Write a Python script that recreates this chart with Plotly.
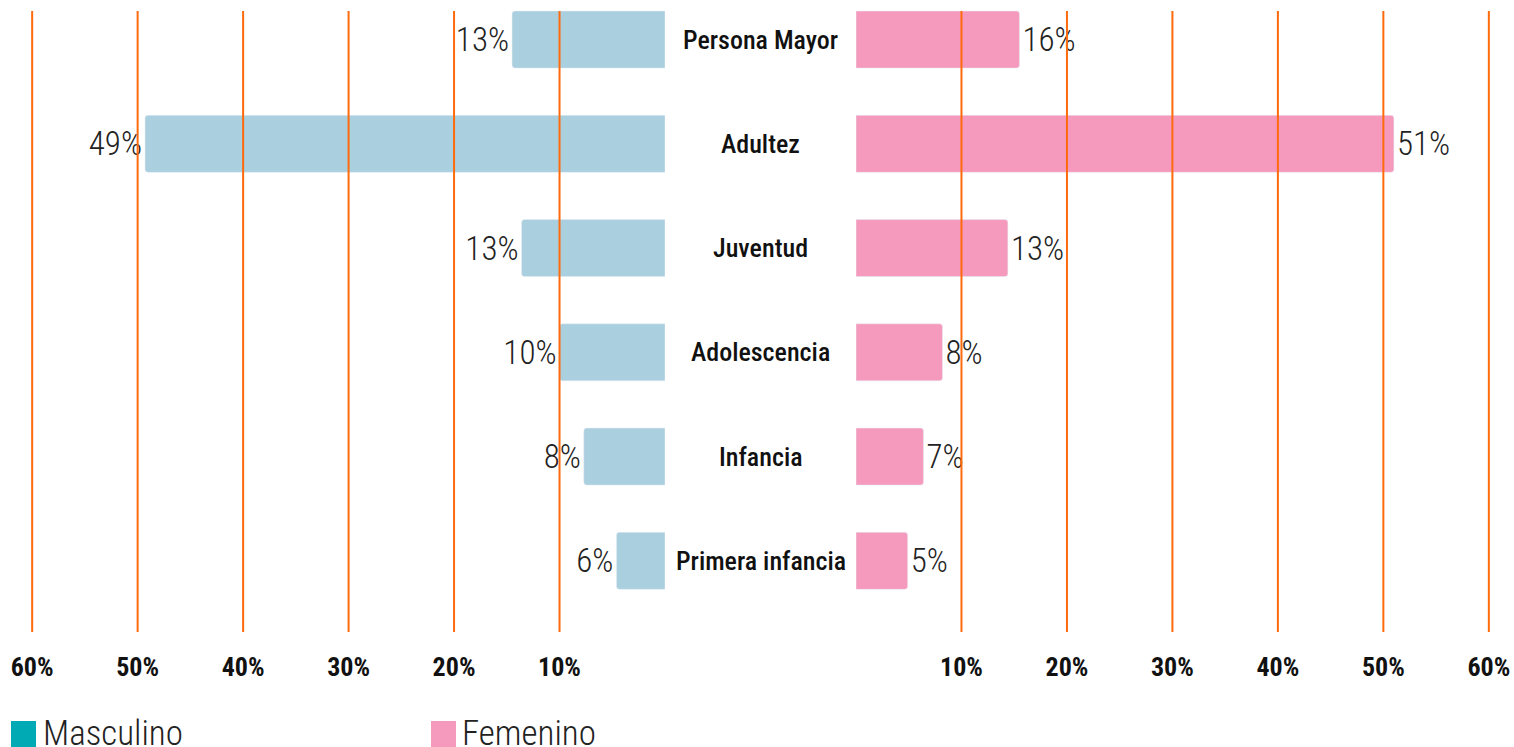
import plotly.graph_objects as go

categories = ["Persona Mayor", "Adultez", "Juventud", "Adolescencia", "Infancia", "Primera infancia"]
masculino = [14.5, 49.3, 13.6, 10.0, 7.7, 4.6]
masculino_labels = ["13%", "49%", "13%", "10%", "8%", "6%"]
femenino = [15.5, 51.0, 14.4, 8.2, 6.4, 4.9]
femenino_labels = ["16%", "51%", "13%", "8%", "7%", "5%"]
tick_vals = [10, 20, 30, 40, 50, 60]
tick_text = ["10%", "20%", "30%", "40%", "50%", "60%"]

W, H = 1514, 747
ML, MR, MT, MB = 29, 22, 10, 115
PW = W - ML - MR
PH = H - MT - MB
XMAX = 60.3

def px_x(p):
    return (p - ML) / PW

def px_y(p):
    return (H - MB - p) / PH

BLUE = "#AACFDE"
PINK = "#F69ABD"
ORANGE = "#FF6A0D"
TEAL = "#00AAB5"
COND = "Roboto Condensed, Roboto, sans-serif"
LIGHT = "Roboto Condensed, Roboto, Lato, sans-serif"

fig = go.Figure()
fig.add_trace(go.Bar(
    y=categories, x=masculino, orientation="h", xaxis="x", yaxis="y",
    marker=dict(color=BLUE, cornerradius=3), width=0.547,
    text=masculino_labels, textposition="outside", cliponaxis=False,
    textfont=dict(family=LIGHT, size=33, color="#222222", weight=300),
    showlegend=False, name="Masculino"))
fig.add_trace(go.Bar(
    y=categories, x=femenino, orientation="h", xaxis="x2", yaxis="y",
    marker=dict(color=PINK, cornerradius=3), width=0.547,
    text=femenino_labels, textposition="outside", cliponaxis=False,
    textfont=dict(family=LIGHT, size=33, color="#222222", weight=300),
    showlegend=False, name="Femenino"))

shapes = []
for v in tick_vals:
    for xr in ("x", "x2"):
        shapes.append(dict(type="line", xref=xr, yref="paper", x0=v, x1=v,
                           y0=0, y1=px_y(11), line=dict(color=ORANGE, width=2),
                           layer="above"))
# legend squares
shapes.append(dict(type="rect", xref="paper", yref="paper",
                   x0=px_x(11), x1=px_x(36), y0=px_y(747), y1=px_y(721),
                   fillcolor=TEAL, line=dict(width=0)))
shapes.append(dict(type="rect", xref="paper", yref="paper",
                   x0=px_x(431), x1=px_x(456), y0=px_y(747), y1=px_y(721),
                   fillcolor=PINK, line=dict(width=0)))

annotations = []
for c in categories:
    annotations.append(dict(x=px_x(760.5), xref="paper", y=c, yref="y", text=c,
                            showarrow=False, xanchor="center", yanchor="middle",
                            font=dict(family=COND, size=26, color="#111111", weight=500)))
annotations.append(dict(x=px_x(41), xref="paper", y=px_y(733), yref="paper",
                        text="Masculino", showarrow=False, xanchor="left", yanchor="middle",
                        font=dict(family=LIGHT, size=35, color="#222222", weight=300)))
annotations.append(dict(x=px_x(460), xref="paper", y=px_y(733), yref="paper",
                        text="Femenino", showarrow=False, xanchor="left", yanchor="middle",
                        font=dict(family=LIGHT, size=35, color="#222222", weight=300)))

left_end = px_x(665)
right_start = px_x(856)
# category index i sits at pixel Y0 + STEP*i
Y0, STEP = 39.6, 104.25
r_top = (MT - Y0) / STEP
r_bot = (H - MB - Y0) / STEP

axis_common = dict(tickvals=tick_vals, ticktext=tick_text, showgrid=False,
                   zeroline=False, showline=False, ticks="outside", ticklen=0,
                   ticklabelstandoff=12, automargin=False,
                   tickfont=dict(family=COND, size=26, color="#111111", weight=700))

fig.update_layout(
    width=W, height=H,
    margin=dict(l=ML, r=MR, t=MT, b=MB, autoexpand=False),
    paper_bgcolor="white", plot_bgcolor="white",
    xaxis=dict(domain=[0, left_end], range=[XMAX, 0], anchor="y", **axis_common),
    xaxis2=dict(domain=[right_start, 1], range=[0, XMAX], anchor="y", **axis_common),
    yaxis=dict(range=[r_bot, r_top], showticklabels=False, showgrid=False,
               zeroline=False, showline=False, categoryorder="array",
               categoryarray=categories, automargin=False),
    shapes=shapes, annotations=annotations,
    bargap=0.45,
)

fig.write_html(
    "out.html",
    config={"displayModeBar": False},
    post_script="document.body.style.margin='0px';document.body.style.overflow='hidden';",
)
